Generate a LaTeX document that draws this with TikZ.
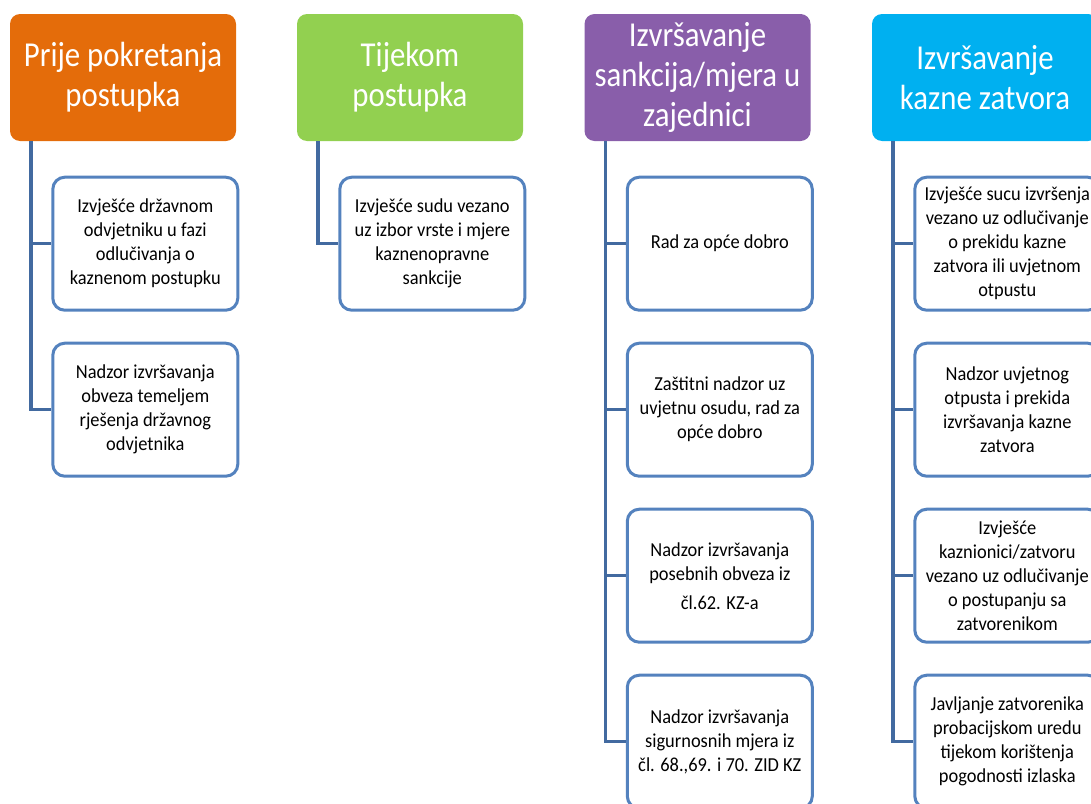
\documentclass[tikz,border=0pt]{standalone}
\usepackage{fontspec}
\setmainfont{Carlito}
\newfontfamily\headfont[FakeStretch=0.88]{Carlito}
\newfontfamily\itemfont[FakeStretch=0.93]{Carlito}
\usetikzlibrary{positioning}
\definecolor{orangehead}{RGB}{228,108,10}
\definecolor{greenhead}{RGB}{146,208,80}
\definecolor{purplehead}{RGB}{137,94,170}
\definecolor{cyanhead}{RGB}{0,176,240}
\definecolor{itemblue}{RGB}{84,130,190}
\definecolor{linkblue}{RGB}{66,106,160}
\begin{document}
\begin{tikzpicture}[x=1pt,y=-1pt,node distance=30pt,
  head node/.style={rounded corners=10pt,text=white,minimum width=226pt,minimum height=127pt,align=center,inner sep=0pt,font=\headfont\fontsize{35}{40}\selectfont},
  item node/.style={draw=itemblue,line width=3pt,fill=white,rounded corners=12pt,minimum width=185pt,minimum height=133pt,align=center,inner sep=0pt,font=\itemfont\fontsize{19.8}{24}\selectfont},
  link/.style={draw=linkblue,line width=3.5pt}]
  \useasboundingbox (0,0) rectangle (1091,803);
  \clip (0,0) rectangle (1091,803);

  \node[head node,fill=orangehead] (h1) at (123,77.5) {Prije pokretanja\\postupka};
  \node[head node,fill=greenhead]  (h2) at (410,77.5) {Tijekom\\postupka};
  \node[head node,fill=purplehead] (h3) at (697.5,77.5) {Izvršavanje\\sankcija/mjera u\\zajednici};
  \node[head node,fill=cyanhead]   (h4) at (985,77.5) {Izvršavanje\\kazne zatvora};

  \node[item node] (b11) [below right=34.5pt and 41.5pt of h1.south west] {Izvješće državnom\\odvjetniku u fazi\\odlučivanja o\\kaznenom postupku};
  \node[item node] (b12) [below=of b11] {Nadzor izvršavanja\\obveza temeljem\\rješenja državnog\\odvjetnika};

  \node[item node] (b21) [below right=34.5pt and 41.5pt of h2.south west] {Izvješće sudu vezano\\uz izbor vrste i mjere\\kaznenopravne\\sankcije};

  \node[item node] (b31) [below right=34.5pt and 41.5pt of h3.south west] {Rad za opće dobro};
  \node[item node] (b32) [below=of b31] {Zaštitni nadzor uz\\uvjetnu osudu, rad za\\opće dobro};
  \node[item node] (b33) [below=of b32] {Nadzor izvršavanja\\posebnih obveza iz\\[5pt]čl.62. KZ-a};
  \node[item node] (b34) [below=of b33] {Nadzor izvršavanja\\sigurnosnih mjera iz\\čl. 68.,69. i 70. ZID KZ};

  \node[item node] (b41) [below right=34.5pt and 41.5pt of h4.south west] {Izvješće sucu izvršenja\\vezano uz odlučivanje\\o prekidu kazne\\zatvora ili uvjetnom\\otpustu};
  \node[item node] (b42) [below=of b41] {Nadzor uvjetnog\\otpusta i prekida\\izvršavanja kazne\\zatvora};
  \node[item node] (b43) [below=of b42] {Izvješće\\kaznionici/zatvoru\\vezano uz odlučivanje\\o postupanju sa\\zatvorenikom};
  \node[item node] (b44) [below=of b43] {Javljanje zatvorenika\\probacijskom uredu\\tijekom korištenja\\pogodnosti izlaska};

  \draw[link] ([xshift=21pt]h1.south west) |- (b11.west);
  \draw[link] ([xshift=21pt]h1.south west) |- (b12.west);
  \draw[link] ([xshift=21pt]h2.south west) |- (b21.west);
  \foreach \i in {1,...,4} {
    \draw[link] ([xshift=21pt]h3.south west) |- (b3\i.west);
    \draw[link] ([xshift=21pt]h4.south west) |- (b4\i.west);
  }
\end{tikzpicture}
\end{document}
